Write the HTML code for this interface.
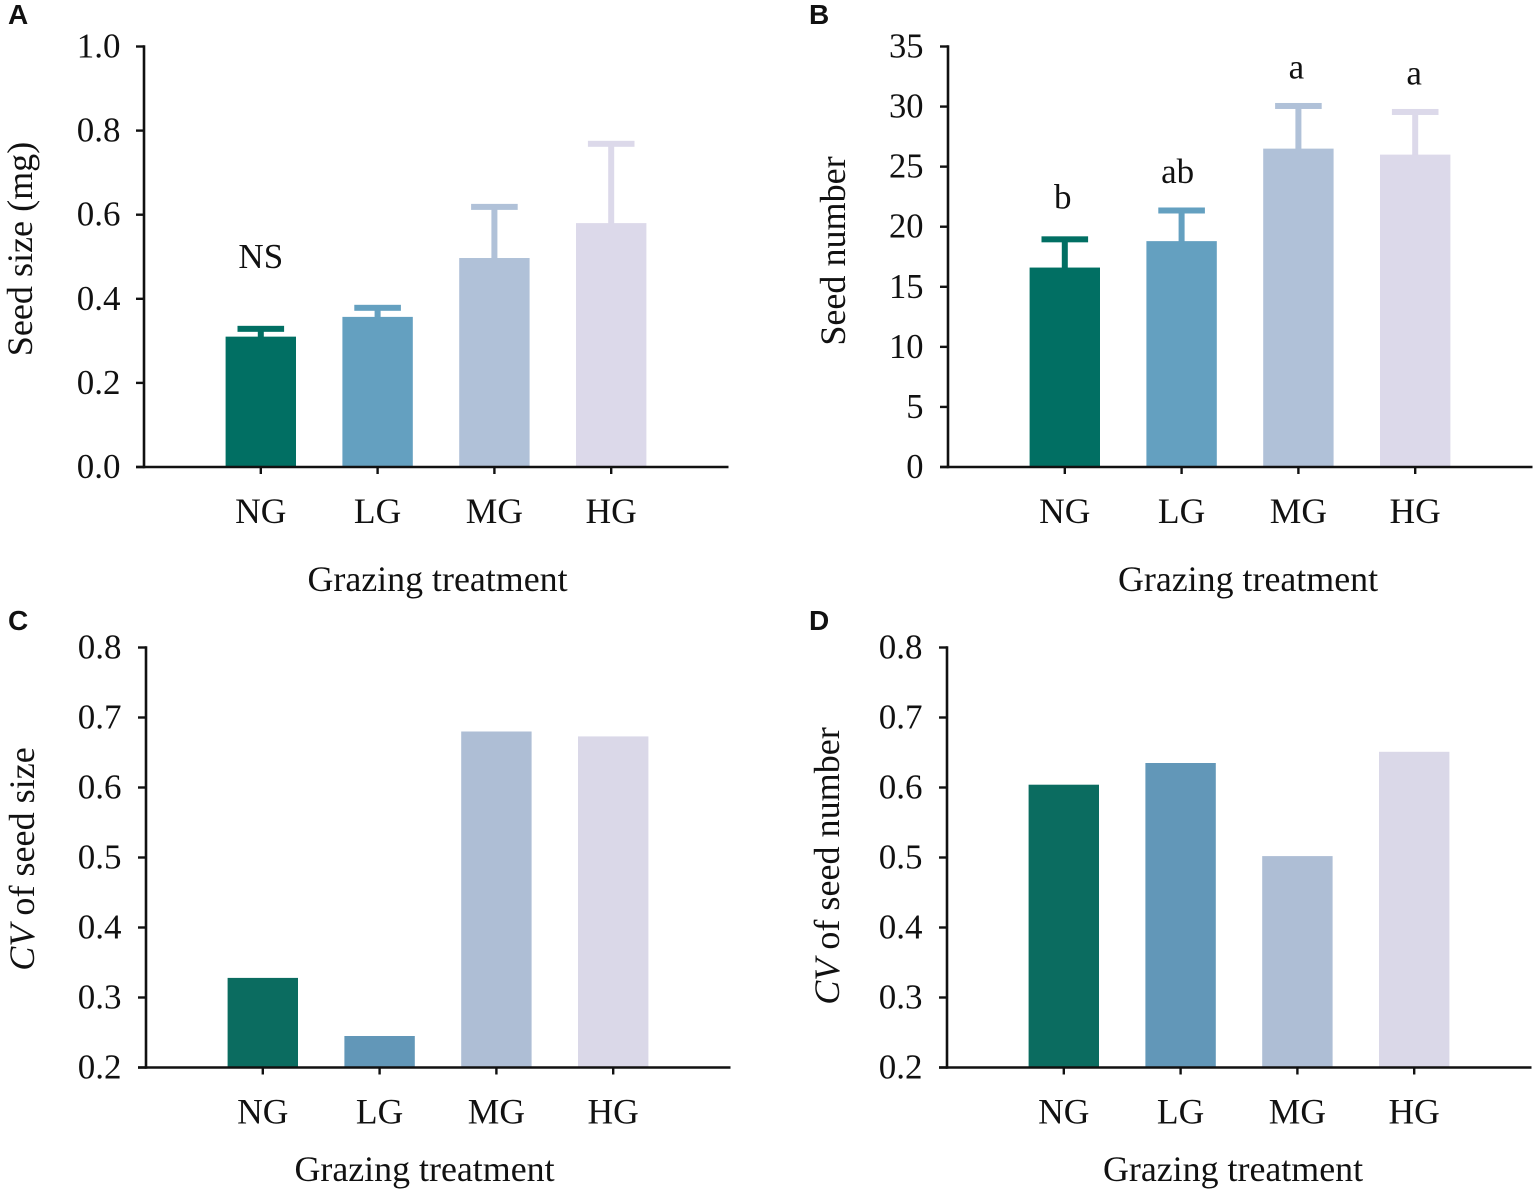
<!DOCTYPE html>
<html lang="en">
<head>
<meta charset="utf-8">
<title>Grazing treatment effects on seed traits</title>
<style>
html,body{margin:0;padding:0;background:#fff;}
svg{display:block;}
text{font-family:"Liberation Serif",serif;fill:#111;}
.panel-letter{font-family:"Liberation Sans",sans-serif;font-weight:700;font-size:28px;}
</style>
</head>
<body>
<svg id="figure" xmlns="http://www.w3.org/2000/svg" width="1535" height="1195" viewBox="0 0 1535 1195"></svg>
<script>
// Shared
const categories = ['NG', 'LG', 'MG', 'HG'];

// Panel A: seed size
const seedSizeMeans = [0.31, 0.357, 0.497, 0.58];
const seedSizeErrorTops = [0.33, 0.38, 0.62, 0.77];
const seedSizeTicks = ['0.0', '0.2', '0.4', '0.6', '0.8', '1.0'];
const seedSizeLetters = ['NS', '', '', ''];

// Panel B: seed number
const seedNumberMeans = [16.6, 18.8, 26.5, 26];
const seedNumberErrorTops = [19, 21.4, 30.1, 29.6];
const seedNumberTicks = ['0', '5', '10', '15', '20', '25', '30', '35'];
const seedNumberLetters = ['b', 'ab', 'a', 'a'];

// Panel C: CV of seed size
const cvSizeValues = [0.328, 0.245, 0.68, 0.673];
const cvSizeTicks = ['0.2', '0.3', '0.4', '0.5', '0.6', '0.7', '0.8'];

// Panel D: CV of seed number
const cvNumberValues = [0.604, 0.635, 0.502, 0.651];
const cvNumberTicks = ['0.2', '0.3', '0.4', '0.5', '0.6', '0.7', '0.8'];

const NS = 'http://www.w3.org/2000/svg';
const svg = document.getElementById('figure');

function add(parent, tag, attrs, txt) {
  const el = document.createElementNS(NS, tag);
  for (const k in attrs) el.setAttribute(k, attrs[k]);
  if (txt !== undefined) el.textContent = txt;
  parent.appendChild(el);
  return el;
}

function drawPanel(cfg) {
  const g = add(svg, 'g', {});
  
  

  const x0 = cfg.x0, xEnd = cfg.x0 + 584.5, yTop = cfg.yTop, yBot = cfg.yBot;
  const colors = cfg.colors;
  const tickVals = cfg.ticks.map(Number);
  const yMin = tickVals[0], yMax = tickVals[tickVals.length - 1];
  const yScale = v => yBot - (v - yMin) / (yMax - yMin) * (yBot - yTop);
  const xScale = i => x0 + (i + 1) * 116.8 + cfg.xShift;

  // bars
  cfg.values.forEach((v, i) => {
    const cx = xScale(i), y = yScale(v);
    const color = colors[i];
    if (cfg.errTops) {
      const t = yScale(cfg.errTops[i]);
      const stem = add(g, 'rect', {x: cx - 3, y: t, width: 6, height: y - t + 1, fill: color});
      
      
      const cap = add(g, 'rect', {x: cx - 23.3, y: t - 2.4, width: 46.6, height: 6, fill: color});
      
      
    }
    const bar = add(g, 'rect', {x: cx - 35.2, y: y, width: 70.4, height: yBot - y, fill: color});
    
    

    if (cfg.letters && cfg.letters[i]) {
      const t = yScale(cfg.errTops[i]);
      const lab = add(g, 'text', {x: cx + cfg.letterDx[i], y: t - cfg.letterGap[i], 'font-size': 35, 'text-anchor': 'middle'}, cfg.letters[i]);
      
      
    }

    const tick = add(g, 'line', {x1: cx, x2: cx, y1: yBot, y2: yBot + 7, stroke: '#111', 'stroke-width': 2.4});
    
    
    const xl = add(g, 'text', {x: cx, y: yBot + 56, 'font-size': 35.5, 'text-anchor': 'middle'}, categories[i]);
    
    
  });

  // axes
  const yAxis = add(g, 'line', {x1: x0, x2: x0, y1: yTop - 1.2, y2: yBot + 1.2, stroke: '#111', 'stroke-width': 2.6});
  
  
  const xAxis = add(g, 'line', {x1: x0 - 8, x2: xEnd, y1: yBot, y2: yBot, stroke: '#111', 'stroke-width': 2.6});
  
  

  cfg.ticks.forEach((t, i) => {
    const y = yScale(tickVals[i]);
    const tk = add(g, 'line', {x1: x0 - 8, x2: x0, y1: y, y2: y, stroke: '#111', 'stroke-width': 2.4});
    
    
    const tl = add(g, 'text', {x: x0 - cfg.tickGap, y: y + 11, 'font-size': cfg.tickSize, 'text-anchor': 'end'}, t);
    
    
  });

  // titles
  const xt = add(g, 'text', {x: cfg.xTitleX, y: cfg.xTitleY, 'font-size': 35.9, 'text-anchor': 'middle'}, 'Grazing treatment');
  
  

  const yt = add(g, 'text', {transform: 'translate(' + cfg.yTitleX + ' ' + cfg.yTitleY + ') rotate(-90)', 'font-size': 36.1, 'text-anchor': 'middle'});
  
  
  if (cfg.yItalic) add(yt, 'tspan', {'font-style': 'italic'}, cfg.yItalic);
  add(yt, 'tspan', {}, cfg.yTitle);

  const pl = add(g, 'text', {x: cfg.letterX, y: cfg.letterY, class: 'panel-letter'}, cfg.key.toUpperCase());
  
  
}

const colorsTop = ['#016f63', '#64a0c0', '#b0c1d8', '#dcd9ea'];
const colorsBottom = ['#0b6c60', '#6297b8', '#aebed5', '#dad8e8'];

drawPanel({key: 'a', x0: 144, xShift: 0, yTop: 46.5, yBot: 467, values: seedSizeMeans, errTops: seedSizeErrorTops,
  ticks: seedSizeTicks, letters: seedSizeLetters, letterDx: [0, 0, 0, 0], letterGap: [60, 0, 0, 0], colors: colorsTop,
  tickSize: 35, tickGap: 23.5, xTitleX: 437.5, xTitleY: 591, yTitle: 'Seed size (mg)', yTitleX: 32, yTitleY: 249, letterX: 8, letterY: 24});

drawPanel({key: 'b', x0: 948, xShift: 0, yTop: 46.5, yBot: 467, values: seedNumberMeans, errTops: seedNumberErrorTops,
  ticks: seedNumberTicks, letters: seedNumberLetters, letterDx: [-2, -4, -2, -1], letterGap: [30, 27, 27, 27], colors: colorsTop,
  tickSize: 34.5, tickGap: 24.5, xTitleX: 1248, xTitleY: 591, yTitle: 'Seed number', yTitleX: 845, yTitleY: 251, letterX: 809, letterY: 24});

drawPanel({key: 'c', x0: 146, xShift: 0, yTop: 647.5, yBot: 1067.5, values: cvSizeValues, errTops: null,
  ticks: cvSizeTicks, letters: null, colors: colorsBottom,
  tickSize: 35, tickGap: 24.5, xTitleX: 424.5, xTitleY: 1181, yItalic: 'CV', yTitle: ' of seed size', yTitleX: 34, yTitleY: 859, letterX: 8, letterY: 630});

drawPanel({key: 'd', x0: 947, xShift: 0, yTop: 647.5, yBot: 1067.5, values: cvNumberValues, errTops: null,
  ticks: cvNumberTicks, letters: null, colors: colorsBottom,
  tickSize: 35, tickGap: 24.5, xTitleX: 1233, xTitleY: 1181, yItalic: 'CV', yTitle: ' of seed number', yTitleX: 839, yTitleY: 866, letterX: 809, letterY: 630});
</script>
</body>
</html>
